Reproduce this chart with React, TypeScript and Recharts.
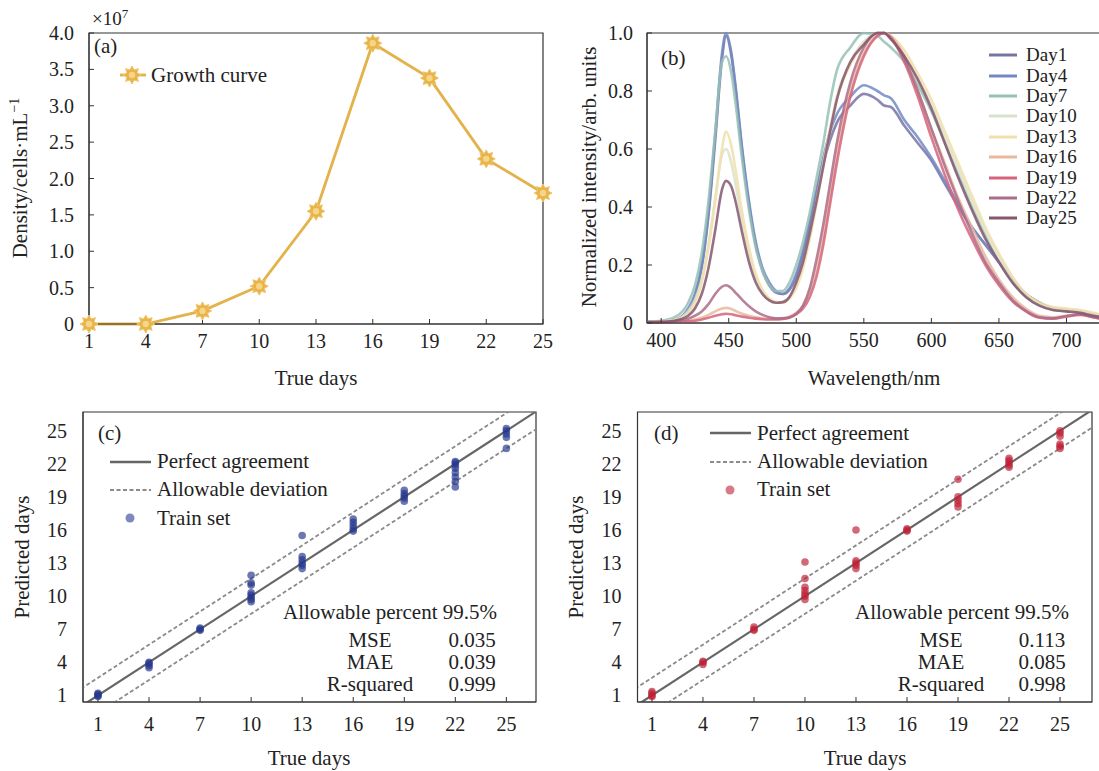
import React from 'react';
import {
  LineChart,
  Line,
  ScatterChart,
  Scatter,
  XAxis,
  YAxis,
  ReferenceArea,
  ReferenceLine,
  Legend,
} from 'recharts';

// (a) growth curve, density in 1e7 cells/mL
const growthDays = [1, 4, 7, 10, 13, 16, 19, 22, 25];
const growthDensity = [0, 0, 0.18, 0.52, 1.55, 3.86, 3.38, 2.27, 1.8];
const dayTicks = [1, 4, 7, 10, 13, 16, 19, 22, 25];
const densityTicks = [0, 0.5, 1, 1.5, 2, 2.5, 3, 3.5, 4];

// (b) normalized spectra
const wavelengths = [
  390, 400, 410, 420, 425, 430, 435, 440, 445, 448, 452, 455,
  460, 465, 470, 475, 480, 485, 490, 495, 500, 505, 510, 515,
  520, 525, 530, 540, 550, 560, 565, 570, 580, 590, 600, 610,
  620, 630, 640, 650, 660, 670, 680, 690, 700, 710, 720, 730,
];
const day1 = [
  0.005, 0.005, 0.01, 0.04, 0.09, 0.19, 0.37, 0.63, 0.91, 0.99, 0.92, 0.81,
  0.59, 0.41, 0.27, 0.18, 0.13, 0.105, 0.1, 0.115, 0.16, 0.24, 0.34, 0.45,
  0.55, 0.63, 0.69, 0.75, 0.79, 0.77, 0.75, 0.745, 0.68, 0.62, 0.56, 0.48,
  0.4, 0.33, 0.27, 0.21, 0.15, 0.1, 0.07, 0.05, 0.045, 0.04, 0.03, 0.02,
];
const day4 = [
  0.005, 0.005, 0.01, 0.05, 0.1, 0.2, 0.38, 0.65, 0.93, 1.0, 0.93, 0.82,
  0.6, 0.42, 0.28, 0.19, 0.14, 0.11, 0.1, 0.12, 0.17, 0.25, 0.35, 0.46,
  0.57, 0.66, 0.72, 0.78, 0.82, 0.8, 0.785, 0.775, 0.7, 0.64, 0.57, 0.49,
  0.41, 0.33, 0.27, 0.21, 0.15, 0.1, 0.07, 0.05, 0.045, 0.04, 0.03, 0.02,
];
const day7 = [
  0.005, 0.008, 0.02, 0.07, 0.13, 0.24, 0.42, 0.66, 0.9, 0.92, 0.86, 0.76,
  0.56, 0.39, 0.26, 0.18, 0.13, 0.11, 0.11, 0.14, 0.2, 0.28, 0.38, 0.5,
  0.62, 0.76, 0.87, 0.95, 1.0, 0.99, 0.97, 0.95, 0.9, 0.82, 0.73, 0.62,
  0.51, 0.4, 0.3, 0.21, 0.14, 0.09, 0.06, 0.045, 0.04, 0.035, 0.025, 0.02,
];
const day10 = [
  0.003, 0.005, 0.01, 0.04, 0.08, 0.15, 0.27, 0.43, 0.58, 0.6, 0.55, 0.48,
  0.35, 0.24, 0.16, 0.11, 0.08, 0.07, 0.07, 0.09, 0.13, 0.2, 0.3, 0.42,
  0.55, 0.67, 0.78, 0.9, 0.97, 1.0, 1.0, 0.98, 0.92, 0.84, 0.75, 0.64,
  0.53, 0.42, 0.32, 0.23, 0.15, 0.1, 0.065, 0.05, 0.045, 0.04, 0.03, 0.02,
];
const day13 = [
  0.003, 0.005, 0.01, 0.035, 0.07, 0.14, 0.26, 0.42, 0.6, 0.66, 0.61, 0.53,
  0.38, 0.26, 0.17, 0.115, 0.085, 0.072, 0.07, 0.085, 0.12, 0.19, 0.29, 0.41,
  0.54, 0.66, 0.77, 0.89, 0.96, 0.99, 1.0, 0.99, 0.94, 0.86, 0.77, 0.66,
  0.55, 0.44, 0.33, 0.24, 0.16, 0.1, 0.07, 0.055, 0.05, 0.045, 0.035, 0.025,
];
const day16 = [
  0.002, 0.003, 0.005, 0.008, 0.012, 0.018, 0.028, 0.04, 0.05, 0.052, 0.048, 0.042,
  0.032, 0.025, 0.02, 0.016, 0.015, 0.015, 0.017, 0.022, 0.035, 0.06, 0.11, 0.19,
  0.3, 0.44, 0.58, 0.8, 0.93, 0.99, 1.0, 0.99, 0.92, 0.8, 0.67, 0.55,
  0.43, 0.33, 0.23, 0.15, 0.09, 0.05, 0.025, 0.02, 0.025, 0.03, 0.02, 0.012,
];
const day19 = [
  0.002, 0.003, 0.004, 0.006, 0.008, 0.012, 0.018, 0.025, 0.03, 0.032, 0.03, 0.027,
  0.022, 0.018, 0.015, 0.013, 0.012, 0.012, 0.014, 0.018, 0.03, 0.05, 0.09, 0.16,
  0.27, 0.41, 0.55, 0.78, 0.92, 0.99, 1.0, 0.985, 0.9, 0.78, 0.64, 0.51,
  0.39, 0.29, 0.2, 0.13, 0.075, 0.04, 0.018, 0.015, 0.022, 0.028, 0.02, 0.01,
];
const day22 = [
  0.002, 0.003, 0.006, 0.015, 0.025, 0.04, 0.065, 0.1, 0.125, 0.13, 0.12, 0.105,
  0.08, 0.058, 0.04, 0.028, 0.02, 0.016, 0.016, 0.02, 0.032, 0.06, 0.12, 0.22,
  0.34, 0.48, 0.62, 0.83, 0.95, 1.0, 1.0, 0.98, 0.91, 0.8, 0.67, 0.54,
  0.42, 0.31, 0.21, 0.14, 0.08, 0.042, 0.02, 0.016, 0.024, 0.03, 0.02, 0.012,
];
const day25 = [
  0.003, 0.004, 0.008, 0.025, 0.05, 0.1, 0.19, 0.32, 0.46, 0.49, 0.47, 0.42,
  0.31, 0.21, 0.14, 0.1, 0.078, 0.07, 0.072, 0.09, 0.14, 0.21, 0.31, 0.42,
  0.54, 0.66, 0.77, 0.9, 0.96, 1.0, 1.0, 0.98, 0.92, 0.84, 0.74, 0.62,
  0.5, 0.39, 0.29, 0.21, 0.14, 0.09, 0.06, 0.045, 0.04, 0.035, 0.025, 0.018,
];
const spectraDays = ['Day1', 'Day4', 'Day7', 'Day10', 'Day13', 'Day16', 'Day19', 'Day22', 'Day25'];
const spectraColors = ['#7774a6', '#7389c4', '#95c1b6', '#d9e3cb', '#f1dfab', '#e9b89d', '#d6647a', '#ad6c8a', '#86566e'];
const spectra = [day1, day4, day7, day10, day13, day16, day19, day22, day25];
const wavelengthTicks = [400, 450, 500, 550, 600, 650, 700];
const intensityTicks = [0, 0.2, 0.4, 0.6, 0.8, 1.0];

// (c) and (d) predicted vs true days
const trainTrueC = [
  1, 1, 1, 1, 4, 4, 4, 4, 7, 7, 7,
  10, 10, 10, 10, 10, 10, 10, 10,
  13, 13, 13, 13, 13, 13,
  16, 16, 16, 16, 16,
  19, 19, 19, 19, 19,
  22, 22, 22, 22, 22, 22, 22, 22,
  25, 25, 25, 25, 25,
];
const trainPredC = [
  0.9, 1.0, 1.1, 1.2, 3.5, 3.7, 3.9, 4.0, 6.9, 7.0, 7.1,
  9.5, 9.7, 9.9, 10.1, 10.3, 11.0, 11.2, 11.9,
  12.5, 12.8, 13.0, 13.3, 13.6, 15.5,
  15.9, 16.1, 16.4, 16.7, 17.0,
  18.6, 18.9, 19.1, 19.3, 19.6,
  19.9, 20.4, 20.8, 21.2, 21.6, 21.9, 22.1, 22.2,
  23.4, 24.4, 24.7, 25.0, 25.2,
];
const trainTrueD = [
  1, 1, 1, 1, 4, 4, 4, 7, 7, 7,
  10, 10, 10, 10, 10, 10, 10,
  13, 13, 13, 13, 13,
  16, 16, 16,
  19, 19, 19, 19, 19,
  22, 22, 22, 22, 22,
  25, 25, 25, 25, 25, 25,
];
const trainPredD = [
  0.9, 1.0, 1.2, 1.35, 3.8, 4.0, 4.1, 6.9, 7.0, 7.2,
  9.7, 10.0, 10.2, 10.5, 10.8, 11.6, 13.1,
  12.5, 12.8, 13.0, 13.2, 16.0,
  15.9, 16.0, 16.1,
  18.1, 18.4, 18.7, 19.0, 20.6,
  21.7, 21.9, 22.1, 22.3, 22.5,
  23.4, 23.6, 23.8, 24.5, 24.8, 25.0,
];
const allowableDeviation = 1.6;
const diagonalRange = [0, 28];
const statNames = ['MSE', 'MAE', 'R-squared'];
const statsC = ['0.035', '0.039', '0.999'];
const statsD = ['0.113', '0.085', '0.998'];

const growthData = growthDays.map((day, i) => ({ day, density: growthDensity[i] }));
const spectraData = wavelengths.map((nm, i) => {
  const row: Record<string, number> = { nm };
  spectraDays.forEach((key, j) => {
    row[key] = spectra[j][i];
  });
  return row;
});
const pointsC = trainTrueC.map((x, i) => ({ x, y: trainPredC[i] }));
const pointsD = trainTrueD.map((x, i) => ({ x, y: trainPredD[i] }));

const axisStroke = '#333';
const tickFont = { fontSize: 20, fill: '#222' };
const fmt1 = (v: number) => (v === 0 ? '0' : v.toFixed(1));

const starPoints = (cx: number, cy: number, R: number, r: number) => {
  const pts: string[] = [];
  for (let i = 0; i < 16; i++) {
    const a = (Math.PI / 8) * i - Math.PI / 2;
    const rad = i % 2 === 0 ? R : r;
    pts.push(`${cx + rad * Math.cos(a)},${cy + rad * Math.sin(a)}`);
  }
  return pts.join(' ');
};

const Star = ({ cx, cy }: { cx: number; cy: number }) => (
  <g>
    <polygon points={starPoints(cx, cy, 9, 5.5)} fill="#e8b448" stroke="#f0c56c" strokeWidth={1} />
    <circle cx={cx} cy={cy} r={3.2} fill="#f5d58a" />
  </g>
);

const Txt = ({ x, y, children, anchor = 'start', size = 21, rotate = false }: any) => {
  const tx = anchor === 'middle' ? '-50%' : anchor === 'end' ? '-100%' : '0';
  return (
    <div
      style={{
        position: 'absolute',
        left: x,
        top: y,
        fontSize: size,
        lineHeight: 1,
        whiteSpace: 'nowrap',
        transform: rotate ? 'translate(-50%, -50%) rotate(-90deg)' : `translate(${tx}, -50%)`,
      }}
    >
      {children}
    </div>
  );
};

const GrowthLegend = () => (
  <div style={{ display: 'flex', alignItems: 'center', fontSize: 21, color: '#222', height: 24 }}>
    <svg width={26} height={20}>
      <line x1={0} y1={10} x2={26} y2={10} stroke="#e4b24a" strokeWidth={2.8} />
      <Star cx={12} cy={10} />
    </svg>
    <span style={{ marginLeft: 5 }}>Growth curve</span>
  </div>
);

const SpectraLegend = () => (
  <div style={{ fontSize: 19, color: '#222' }}>
    {spectraDays.map((d, i) => (
      <div key={d} style={{ display: 'flex', alignItems: 'center', height: 20.4 }}>
        <svg width={28} height={6}>
          <line x1={0} y1={3} x2={28} y2={3} stroke={spectraColors[i]} strokeWidth={3} />
        </svg>
        <span style={{ marginLeft: 9 }}>{d}</span>
      </div>
    ))}
  </div>
);

const FitLegend = ({ color }: { color: string }) => {
  const row = (icon: React.ReactNode, label: string) => (
    <div key={label} style={{ display: 'flex', alignItems: 'center', height: 28.3 }}>
      <svg width={41} height={12}>
        {icon}
      </svg>
      <span style={{ marginLeft: 6 }}>{label}</span>
    </div>
  );
  return (
    <div style={{ fontSize: 21, color: '#222' }}>
      {row(<line x1={0} y1={6} x2={41} y2={6} stroke="#666" strokeWidth={2.4} />, 'Perfect agreement')}
      {row(<line x1={0} y1={6} x2={41} y2={6} stroke="#8a8a8a" strokeWidth={1.8} strokeDasharray="4 2.5" />, 'Allowable deviation')}
      {row(<circle cx={20} cy={6} r={4.5} fill={color} fillOpacity={0.6} />, 'Train set')}
    </div>
  );
};

const FitPanel = ({ points, color, xDomain, margin, legendPos, width }: any) => (
  <ScatterChart width={width} height={376} margin={margin}>
    <XAxis
      dataKey="x"
      type="number"
      domain={xDomain}
      ticks={dayTicks}
      interval={0}
      allowDataOverflow
      height={42}
      tickSize={-5}
      tickMargin={20}
      tick={tickFont}
      stroke={axisStroke}
    />
    <YAxis
      dataKey="y"
      type="number"
      domain={[0.4, 26.7]}
      ticks={dayTicks}
      interval={0}
      allowDataOverflow
      width={60}
      tickLine={false}
      tickSize={0}
      tickMargin={16}
      tick={tickFont}
      stroke={axisStroke}
    />
    <ReferenceArea x1={xDomain[0]} x2={xDomain[1]} y1={0.4} y2={26.7} fill="none" stroke={axisStroke} strokeWidth={1.2} ifOverflow="visible" />
    <ReferenceLine
      segment={[{ x: diagonalRange[0], y: diagonalRange[0] + allowableDeviation }, { x: diagonalRange[1], y: diagonalRange[1] + allowableDeviation }]}
      stroke="#8a8a8a"
      strokeWidth={1.8}
      strokeDasharray="4 2.5"
      ifOverflow="hidden"
    />
    <ReferenceLine
      segment={[{ x: diagonalRange[0], y: diagonalRange[0] - allowableDeviation }, { x: diagonalRange[1], y: diagonalRange[1] - allowableDeviation }]}
      stroke="#8a8a8a"
      strokeWidth={1.8}
      strokeDasharray="4 2.5"
      ifOverflow="hidden"
    />
    <ReferenceLine
      segment={[{ x: diagonalRange[0], y: diagonalRange[0] }, { x: diagonalRange[1], y: diagonalRange[1] }]}
      stroke="#666"
      strokeWidth={2.2}
      ifOverflow="hidden"
    />
    <Scatter
      name="Train set"
      data={points}
      isAnimationActive={false}
      shape={(p: any) => <circle cx={p.cx} cy={p.cy} r={3.8} fill={color} fillOpacity={0.68} />}
    />
    <Legend
      layout="vertical"
      align="center"
      verticalAlign="middle"
      content={() => <FitLegend color={color} />}
      wrapperStyle={{ left: legendPos[0], top: legendPos[1], width: 260, height: 'auto' }}
    />
  </ScatterChart>
);

export default function App() {
  return (
    <div
      style={{
        position: 'absolute',
        left: 0,
        top: 0,
        width: 1099,
        height: 771,
        overflow: 'hidden',
        background: '#fff',
        color: '#222',
        fontFamily: '"Liberation Serif", "Times New Roman", serif',
      }}
    >
      {/* (a) */}
      <div style={{ position: 'absolute', left: 0, top: 0 }}>
        <LineChart width={560} height={395} data={growthData} margin={{ top: 33, right: 17, left: 29, bottom: 31 }}>
          <XAxis
            dataKey="day"
            type="number"
            domain={[1, 25]}
            ticks={dayTicks}
            interval={0}
            height={40}
            tickSize={-5}
            tickMargin={15}
            tick={tickFont}
            stroke={axisStroke}
          />
          <YAxis
            type="number"
            domain={[0, 4]}
            ticks={densityTicks}
            interval={0}
            width={60}
            tickSize={-5}
            tickMargin={20}
            tick={tickFont}
            tickFormatter={fmt1}
            stroke={axisStroke}
          />
          <ReferenceArea x1={1} x2={25} y1={0} y2={4} fill="none" stroke={axisStroke} strokeWidth={1.2} ifOverflow="visible" />
          <Line
            dataKey="density"
            name="Growth curve"
            stroke="#e4b24a"
            strokeWidth={2.8}
            isAnimationActive={false}
            dot={(p: any) => <Star key={`s${p.index}`} cx={p.cx} cy={p.cy} />}
          />
          <Legend
            layout="vertical"
            align="center"
            verticalAlign="middle"
            content={() => <GrowthLegend />}
            wrapperStyle={{ left: 120, top: 63, width: 200, height: 'auto' }}
          />
        </LineChart>
      </div>

      {/* (b) */}
      <div style={{ position: 'absolute', left: 570, top: 0 }}>
        <LineChart width={540} height={395} data={spectraData} margin={{ top: 33, right: 3, left: 17, bottom: 32 }}>
          <XAxis
            dataKey="nm"
            type="number"
            domain={[389.5, 730]}
            allowDataOverflow
            ticks={wavelengthTicks}
            interval={0}
            height={40}
            tickSize={-5}
            tickMargin={15}
            tick={tickFont}
            stroke={axisStroke}
          />
          <YAxis
            type="number"
            domain={[0, 1]}
            ticks={intensityTicks}
            interval={0}
            width={60}
            tickSize={-5}
            tickMargin={19}
            tick={tickFont}
            tickFormatter={fmt1}
            stroke={axisStroke}
          />
          <ReferenceArea x1={389.5} x2={730} y1={0} y2={1} fill="none" stroke={axisStroke} strokeWidth={1.2} ifOverflow="visible" />
          {spectraDays.map((d, i) => (
            <Line
              key={d}
              dataKey={d}
              name={d}
              type="monotone"
              stroke={spectraColors[i]}
              strokeWidth={2.6}
              strokeOpacity={0.85}
              dot={false}
              isAnimationActive={false}
            />
          ))}
          <Legend
            layout="vertical"
            align="center"
            verticalAlign="middle"
            content={() => <SpectraLegend />}
            wrapperStyle={{ left: 419, top: 45, width: 110, height: 'auto' }}
          />
        </LineChart>
      </div>

      {/* (c) */}
      <div style={{ position: 'absolute', left: 0, top: 395 }}>
        <FitPanel
          width={560}
          points={pointsC}
          color="#27388e"
          xDomain={[0.12, 26.74]}
          margin={{ top: 17, right: 24, left: 23, bottom: 27 }}
          legendPos={[110, 52.5]}
        />
      </div>

      {/* (d) */}
      <div style={{ position: 'absolute', left: 550, top: 395 }}>
        <FitPanel
          width={549}
          points={pointsD}
          color="#bd2236"
          xDomain={[0.15, 26.88]}
          margin={{ top: 17, right: 7, left: 27.5, bottom: 27 }}
          legendPos={[160, 24.2]}
        />
      </div>

      {/* annotations */}
      <div style={{ position: 'absolute', left: 0, top: 0, width: 1099, height: 771, pointerEvents: 'none' }}>
        <Txt x={92} y={18} size={19}>
          ×10<span style={{ fontSize: 13, position: 'relative', top: -7 }}>7</span>
        </Txt>
        <Txt x={94} y={46}>(a)</Txt>
        <Txt x={20} y={178} rotate>
          Density/cells·mL<span style={{ fontSize: 14, position: 'relative', top: -8 }}>−1</span>
        </Txt>
        <Txt x={316} y={378} anchor="middle">True days</Txt>

        <Txt x={661} y={58}>(b)</Txt>
        <Txt x={589} y={177} rotate>Normalized intensity/arb. units</Txt>
        <Txt x={874} y={378} anchor="middle">Wavelength/nm</Txt>

        <Txt x={98} y={433}>(c)</Txt>
        <Txt x={22} y={557} rotate>Predicted days</Txt>
        <Txt x={309} y={758} anchor="middle">True days</Txt>
        <Txt x={283} y={612}>Allowable percent 99.5%</Txt>
        {statNames.map((n, i) => (
          <React.Fragment key={n}>
            <Txt x={370} y={640 + i * 22} anchor="middle">{n}</Txt>
            <Txt x={472} y={640 + i * 22} anchor="middle">{statsC[i]}</Txt>
          </React.Fragment>
        ))}

        <Txt x={654} y={433}>(d)</Txt>
        <Txt x={576} y={557} rotate>Predicted days</Txt>
        <Txt x={865} y={758} anchor="middle">True days</Txt>
        <Txt x={855} y={612}>Allowable percent 99.5%</Txt>
        {statNames.map((n, i) => (
          <React.Fragment key={n}>
            <Txt x={941} y={640 + i * 22} anchor="middle">{n}</Txt>
            <Txt x={1042} y={640 + i * 22} anchor="middle">{statsD[i]}</Txt>
          </React.Fragment>
        ))}
      </div>
    </div>
  );
}
